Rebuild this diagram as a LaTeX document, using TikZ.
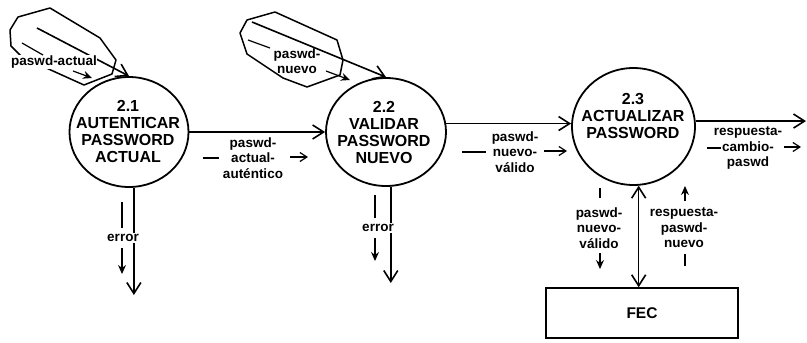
\documentclass[tikz,border=0pt]{standalone}
\usepackage{fontspec}
\setmainfont{Liberation Sans}
\usetikzlibrary{arrows.meta,calc,shapes.geometric}
\begin{document}
\begin{tikzpicture}[x=1pt,y=-1pt,
  proc/.style={ellipse,draw,line width=1.8pt,inner sep=0pt},
  ptext/.style={align=center,font=\fontsize{16}{17}\selectfont\bfseries,inner sep=0pt},
  flab/.style={align=center,font=\fontsize{13.5}{15.5}\selectfont\bfseries,inner sep=1pt},
  flowarrow/.style={line width=1.6pt,-{Straight Barb[length=11pt,width=14pt,line width=1.6pt]}},
  bothflow/.style={line width=1.6pt,{Straight Barb[length=11pt,width=14pt,line width=1.6pt]}-{Straight Barb[length=11pt,width=14pt,line width=1.6pt]}},
  tailline/.style={line width=1.2pt},
  headarrow/.style={line width=1.2pt,-{Straight Barb[length=7pt,width=9pt,line width=1.2pt]}},
  headsolid/.style={line width=1.2pt,-{Stealth[length=9pt,width=8pt]}},
  entity/.style={line width=1.5pt,line join=round},
  store/.style={draw,line width=1.5pt,minimum width=192pt,minimum height=50pt,font=\fontsize{15.5}{17}\selectfont\bfseries}
]
\useasboundingbox (0,0) rectangle (807,343);

% processes
\node[proc,minimum width=119pt,minimum height=110pt] (c1) at (129,132) {};
\node[proc,minimum width=120pt,minimum height=108pt] (c2) at (386,132) {};
\node[proc,minimum width=123pt,minimum height=117pt] (c3) at (633.5,126.5) {};
\node[ptext] (t1) at (128,131) {2.1\\AUTENTICAR\\PASSWORD\\ACTUAL};
\node[ptext] (t2) at (384,132) {2.2\\VALIDAR\\PASSWORD\\NUEVO};
\node[ptext] (t3) at (633,116) {2.3\\ACTUALIZAR\\PASSWORD};

% data store
\node[store] (fec) at (642,313) {FEC};

% external sources (polygons)
\draw[entity] (18,17) -- (50,8) -- (100,38) -- (116,60) -- (112,74) -- (84,85) -- (22,57) -- (11,46) -- (10,30) -- cycle;
\draw[entity] (247,20) -- (275,12) -- (337,40) -- (343,60) -- (340,75) -- (307,87) -- (283,78) -- (247,54) -- (240,33) -- cycle;

% free ends
\coordinate (s1) at (37,28);
\coordinate (s2) at (252,22);
\coordinate (out) at (806,0);
\coordinate (err1) at (0,295);
\coordinate (err2) at (0,283);

% main flows
\draw[flowarrow] (s1) -- (c1.north);
\draw[flowarrow] (s2) -- (c2.north);
\draw[flowarrow] (c1.east) -- (c2.west);
\draw[flowarrow] (c2.8) -- (c2.8 -| c3.west);
\draw[flowarrow] (c3.5) -- (c3.5 -| out);
\draw[flowarrow] (c1.-85) -- (c1.-85 |- err1);
\draw[flowarrow] (c2.-85) -- (c2.-85 |- err2);
\draw[bothflow] (c3.-85) -- (c3.-85 |- fec.north);

% source 1 label
\node[flab,fill=white,inner sep=0.5pt] (l1) at (54,62) {paswd-actual};
\draw[tailline] (22,43) -- (43,55);
\draw[headsolid] (73,71) -- (92,78);

% source 2 label
\node[flab] (l2) at (297,61) {paswd-\\nuevo};
\draw[tailline] (248,40) -- (270,48);
\draw[headsolid] (326,71) -- (350,80);

% 2.1 -> 2.2 label
\node[flab] (l12) at (253,158) {paswd-\\actual-\\auténtico};
\draw[tailline] (203,158) -- (219,158);
\draw[headarrow] (290,157) -- (308,157);

% 2.2 -> 2.3 label
\node[flab] (l23) at (515,152) {paswd-\\nuevo-\\válido};
\draw[tailline] (462,152) -- (486,152);
\draw[headarrow] (544,151) -- (567,151);

% 2.3 -> out label
\node[flab] (l3) at (748,148) {respuesta-\\cambio-\\paswd};
\draw[tailline] (707,148) -- (721,148);
\draw[headarrow] (784,147) -- (801,147);

% error labels
\node[flab,fill=white,inner sep=1.5pt] (le1) at (123,238) {error};
\draw[tailline] (122,202) -- (122,228);
\draw[headsolid] (122,248) -- (122,274);
\node[flab,fill=white,inner sep=1.5pt] (le2) at (378,228) {error};
\draw[tailline] (375,195) -- (375,218);
\draw[headsolid] (375,238) -- (375,261);

% FEC labels
\node[flab] (lf1) at (599,228) {paswd-\\nuevo-\\válido};
\draw[tailline] (600,188) -- (600,198);
\draw[headsolid] (600,253) -- (600,269);
\node[flab] (lf2) at (684,228) {respuesta-\\paswd-\\nuevo};
\draw[headsolid] (685,201) -- (685,186);
\draw[tailline] (685,254) -- (685,266);
\end{tikzpicture}
\end{document}
